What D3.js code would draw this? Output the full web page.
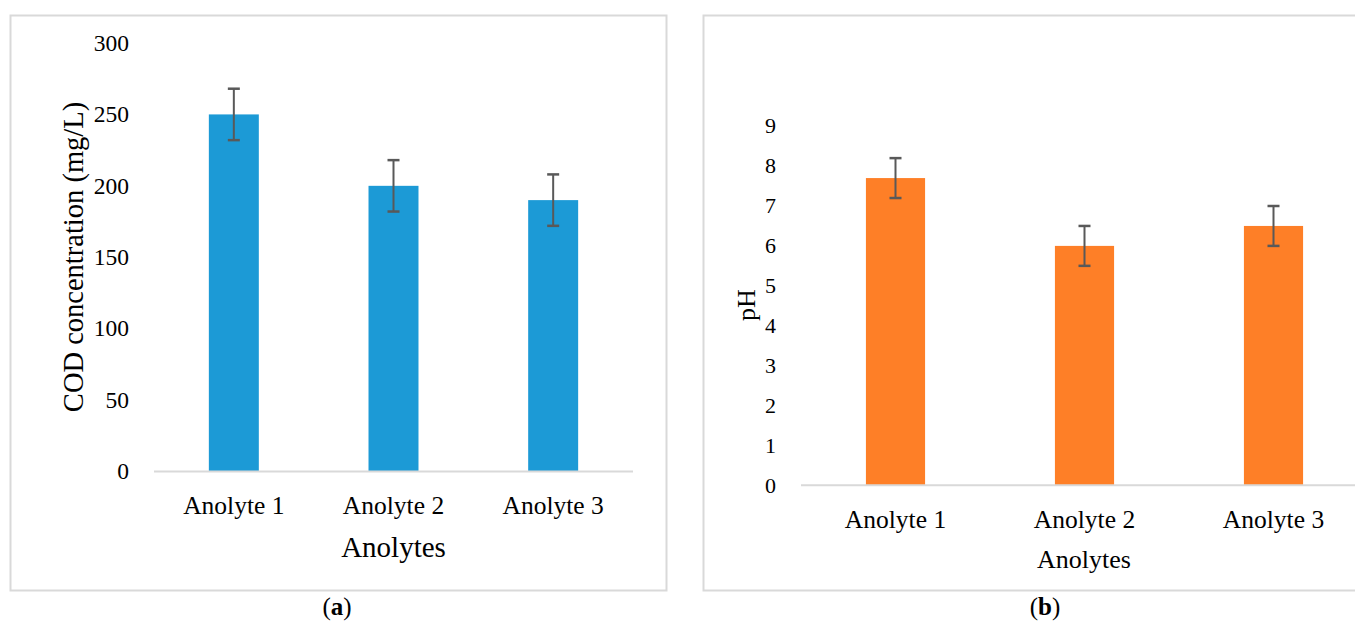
<!DOCTYPE html>
<html>
<head>
<meta charset="utf-8">
<script src="https://cdn.jsdelivr.net/npm/d3@7"></script>
<style>
  html, body { margin: 0; padding: 0; background: #fff; }
  svg { display: block; }
  text { font-family: "Liberation Serif", "Times New Roman", serif; fill: #000; }
</style>
</head>
<body>
<svg id="chart" width="1355" height="623"></svg>
<script>
// ---- data ----
const categories = ["Anolyte 1", "Anolyte 2", "Anolyte 3"];
const codValues = [250, 200, 190];
const codErrors = [18, 18, 18];
const codTicks = [0, 50, 100, 150, 200, 250, 300];
const phValues = [7.7, 6.0, 6.5];
const phErrors = [0.5, 0.5, 0.5];
const phTicks = [0, 1, 2, 3, 4, 5, 6, 7, 8, 9];
const xTitle = "Anolytes";
const codTitle = "COD concentration (mg/L)";
const phTitle = "pH";

const svg = d3.select("#chart");

function panel(cfg) {
  const g = svg.append("g");
  // frame
  g.append("rect")
    .attr("x", cfg.frame[0]).attr("y", cfg.frame[1])
    .attr("width", cfg.frame[2]).attr("height", cfg.frame[3])
    .attr("fill", "none").attr("stroke", "#d9d9d9").attr("stroke-width", 2);

  const x = d3.scaleBand().domain(categories).range(cfg.xRange).padding(0);
  const y = d3.scaleLinear().domain([0, d3.max(cfg.ticks)]).range(cfg.yRange);
  const bw = x.bandwidth() * 0.313;

  // bars
  g.selectAll("rect.bar").data(cfg.values).enter().append("rect")
    .attr("class", "bar")
    .attr("x", (d, i) => x(categories[i]) + x.bandwidth() / 2 - bw / 2)
    .attr("y", d => y(d))
    .attr("width", bw)
    .attr("height", d => y(0) - y(d))
    .attr("fill", cfg.color);

  // x axis line
  g.append("line")
    .attr("x1", cfg.xRange[0]).attr("x2", cfg.xRange[1])
    .attr("y1", y(0)).attr("y2", y(0))
    .attr("stroke", "#d9d9d9").attr("stroke-width", 2);

  // error bars
  const eb = g.selectAll("g.err").data(cfg.values).enter().append("g").attr("class", "err");
  const cx = (i) => x(categories[i]) + x.bandwidth() / 2;
  eb.append("line")
    .attr("x1", (d, i) => cx(i)).attr("x2", (d, i) => cx(i))
    .attr("y1", (d, i) => y(d + cfg.errors[i])).attr("y2", (d, i) => y(d - cfg.errors[i]))
    .attr("stroke", "#595959").attr("stroke-width", 2);
  [1, -1].forEach(s => {
    eb.append("line")
      .attr("x1", (d, i) => cx(i) - 6).attr("x2", (d, i) => cx(i) + 6)
      .attr("y1", (d, i) => y(d + s * cfg.errors[i])).attr("y2", (d, i) => y(d + s * cfg.errors[i]))
      .attr("stroke", "#595959").attr("stroke-width", 2.5);
  });

  // y tick labels
  g.selectAll("text.ytick").data(cfg.ticks).enter().append("text")
    .attr("class", "ytick")
    .attr("x", cfg.tickX).attr("y", d => y(d))
    .attr("dy", "0.33em")
    .attr("text-anchor", "end")
    .style("font-size", cfg.tickSize + "px")
    .text(d => d);

  // x category labels
  g.selectAll("text.xcat").data(categories).enter().append("text")
    .attr("class", "xcat")
    .attr("x", d => x(d) + x.bandwidth() / 2)
    .attr("y", cfg.catY)
    .attr("text-anchor", "middle")
    .style("font-size", cfg.catSize + "px")
    .text(d => d);

  // x title
  g.append("text")
    .attr("x", cfg.xTitleX).attr("y", cfg.xTitleY)
    .attr("text-anchor", "middle")
    .style("font-size", cfg.xTitleSize + "px")
    .text(xTitle);

  // y title
  g.append("text")
    .attr("transform", `translate(${cfg.yTitleX},${cfg.yTitleY}) rotate(-90)`)
    .attr("text-anchor", "middle")
    .style("font-size", cfg.yTitleSize + "px")
    .text(cfg.yTitle);

  // caption
  const cap = g.append("text")
    .attr("x", cfg.capX).attr("y", 615)
    .attr("text-anchor", "middle")
    .style("font-size", "25px");
  cap.append("tspan").text("(");
  cap.append("tspan").style("font-weight", "bold").text(cfg.capLetter);
  cap.append("tspan").text(")");
}

panel({
  frame: [10.5, 15.5, 656, 575],
  xRange: [154, 633], yRange: [471.5, 43],
  values: codValues, errors: codErrors, ticks: codTicks,
  color: "#1c9ad6",
  tickX: 129, tickSize: 23.5,
  catY: 514, catSize: 25.5,
  xTitleX: 393.5, xTitleY: 557, xTitleSize: 29,
  yTitle: codTitle, yTitleX: 83, yTitleY: 257, yTitleSize: 28.5,
  capX: 337, capLetter: "a"
});

panel({
  frame: [703.5, 15.5, 700, 575],
  xRange: [801, 1368], yRange: [485.3, 126.2],
  values: phValues, errors: phErrors, ticks: phTicks,
  color: "#fe7f27",
  tickX: 776, tickSize: 22,
  catY: 528, catSize: 25.5,
  xTitleX: 1084, xTitleY: 568, xTitleSize: 26,
  yTitle: phTitle, yTitleX: 755, yTitleY: 305, yTitleSize: 26,
  capX: 1045, capLetter: "b"
});
</script>
</body>
</html>
